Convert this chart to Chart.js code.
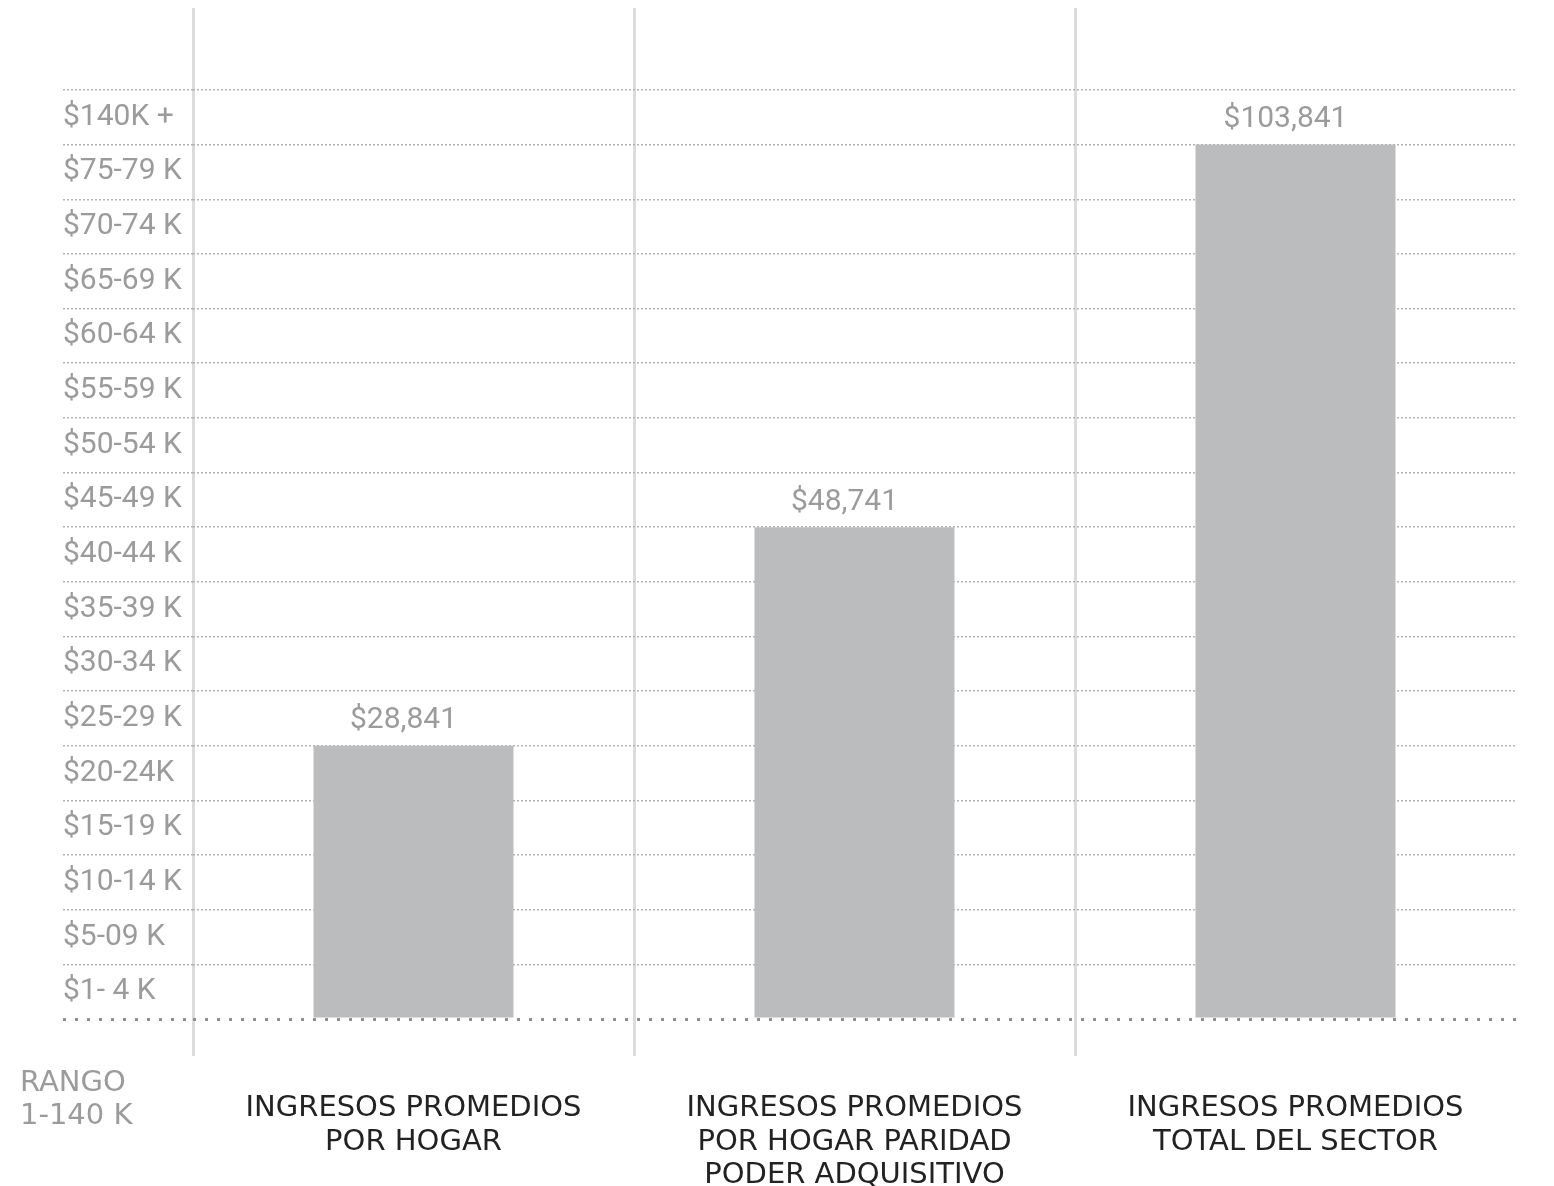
<!DOCTYPE html>
<html>
<head>
<meta charset="utf-8">
<script src="https://cdn.jsdelivr.net/npm/chart.js@4/dist/chart.umd.min.js"></script>
<style>
  body { margin: 0; background: #fff; }
  #wrap { width: 1554px; height: 1186px; }
</style>
</head>
<body>
<div id="wrap"><canvas id="incomeChart" width="1554" height="1186"></canvas></div>
<script>
// categories (x axis)
const categories = [
    ['INGRESOS PROMEDIOS', 'POR HOGAR'],
    ['INGRESOS PROMEDIOS', 'POR HOGAR PARIDAD', 'PODER ADQUISITIVO'],
    ['INGRESOS PROMEDIOS', 'TOTAL DEL SECTOR']
];
// income bands on the y axis, bottom to top
const bandLabels = [
    '$1- 4 K', '$5-09 K', '$10-14 K', '$15-19 K', '$20-24K', '$25-29 K',
    '$30-34 K', '$35-39 K', '$40-44 K', '$45-49 K', '$50-54 K', '$55-59 K',
    '$60-64 K', '$65-69 K', '$70-74 K', '$75-79 K', '$140K +'
];
// bar tops, counted in bands from the bottom
const barBands = [5, 9, 16];
// printed values above the bars
const barValues = [28841, 48741, 103841];

const rangeNote = ['RANGO', '1-140 K'];

const GREY_TEXT = '#9b9b9b';

const valueLabels = {
    id: 'valueLabels',
    afterDatasetsDraw(chart) {
        const ctx = chart.ctx;
        const meta = chart.getDatasetMeta(0);
        ctx.save();
        ctx.font = '30px Roboto';
        ctx.fillStyle = GREY_TEXT;
        ctx.textAlign = 'center';
        ctx.textBaseline = 'bottom';
        meta.data.forEach((bar, i) => {
            ctx.fillText('$' + barValues[i].toLocaleString('en-US'), bar.x - 10, bar.y - 10);
        });
        ctx.restore();
    }
};

const rangeText = {
    id: 'rangeText',
    afterDraw(chart) {
        const ctx = chart.ctx;
        const x = chart.scales.y.left - 43;
        const y = chart.scales.x.top + 64;
        ctx.save();
        ctx.font = '29px "DejaVu Sans"';
        ctx.fillStyle = GREY_TEXT;
        ctx.textAlign = 'left';
        ctx.textBaseline = 'middle';
        rangeNote.forEach((line, i) => ctx.fillText(line, x, y + i * 33));
        ctx.restore();
    }
};

const ctx = document.getElementById('incomeChart').getContext('2d');
const chart = new Chart(ctx, {
    type: 'bar',
    data: {
        labels: categories,
        datasets: [{
            data: barBands,
            backgroundColor: '#bbbcbe',
            borderWidth: 0,
            categoryPercentage: 1,
            barPercentage: 0.4535
        }]
    },
    options: {
        responsive: false,
        animation: false,
        devicePixelRatio: 1,
        layout: { padding: { left: 63, right: 38, top: 0, bottom: 0 } },
        plugins: {
            legend: { display: false },
            tooltip: { enabled: false }
        },
        scales: {
            x: {
                offset: true,
                afterFit(scale) { scale.height = 167; },
                grid: {
                    offset: true,
                    drawOnChartArea: true,
                    lineWidth: 3,
                    color: c => c.type === 'tick' ? '#dcdcdc' : 'rgba(0,0,0,0)',
                    tickColor: c => c.type === 'tick' ? '#dcdcdc' : 'rgba(0,0,0,0)',
                    tickWidth: 3,
                    tickLength: 37
                },
                border: { display: false },
                ticks: {
                    color: '#222',
                    font: { family: '"DejaVu Sans"', size: 29, lineHeight: 1.15 },
                    padding: 36,
                    maxRotation: 0,
                    autoSkip: false
                }
            },
            y: {
                min: 0,
                max: 18.5,
                afterFit(scale) {
                    scale.width = 130;
                    scale.paddingTop = 8;
                },
                grid: {
                    color: c => {
                        const v = c.tick.value;
                        if (!Number.isInteger(v) || v > 17) return 'rgba(0,0,0,0)';
                        return v === 0 ? '#8f8f8f' : '#b3b3b3';
                    },
                    lineWidth: c => c.tick.value === 0 ? 3 : 1.5,
                    tickColor: c => {
                        const v = c.tick.value;
                        if (!Number.isInteger(v) || v > 17) return 'rgba(0,0,0,0)';
                        return v === 0 ? '#8f8f8f' : '#b3b3b3';
                    },
                    tickWidth: c => c.tick.value === 0 ? 3 : 1.5,
                    tickBorderDash: c => c.tick.value === 0 ? [3, 9] : [2, 2],
                    tickLength: 130
                },
                border: {
                    display: false,
                    dash: c => c.tick && c.tick.value === 0 ? [3, 9] : [2, 2]
                },
                ticks: {
                    stepSize: 0.5,
                    autoSkip: false,
                    crossAlign: 'far',
                    padding: 0,
                    color: GREY_TEXT,
                    font: { family: 'Roboto', size: 30 },
                    callback: v => {
                        const k = v - 0.5;
                        return Number.isInteger(k) && k >= 0 && k < bandLabels.length ? bandLabels[k] : '';
                    }
                }
            }
        }
    },
    plugins: [valueLabels, rangeText]
});
</script>
</body>
</html>
